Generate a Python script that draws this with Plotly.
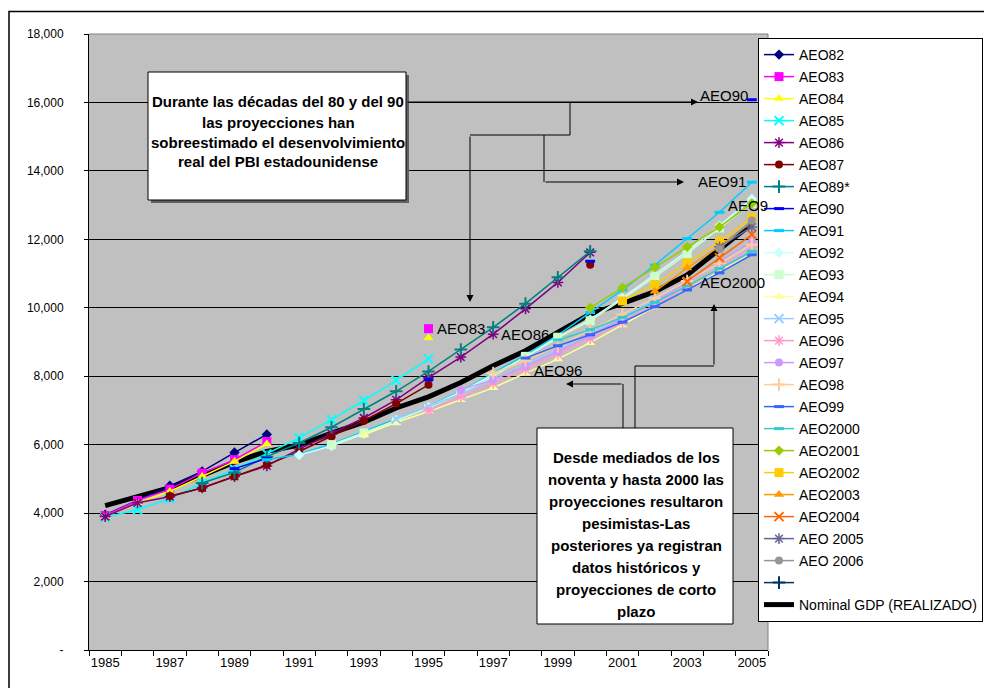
import plotly.graph_objects as go

N = None
years = list(range(1985, 2006))

nominal_gdp = [4220, 4463, 4742, 5104, 5489, 5803, 5986, 6338, 6657, 7072, 7398,
               7817, 8304, 8747, 9268, 9817, 10128, 10470, 10961, 11712, 12456]

aeo82 = [3950, 4370, 4800, 5220, 5770, 6300] + [N] * 15
aeo83 = [3930, 4370, 4700, 5170, 5560, 6090, N, N, N, N, 9390] + [N] * 10
aeo84 = [3900, 4300, 4630, 5070, 5510, 6020, N, N, N, N, 9120] + [N] * 10
aeo85 = [3880, 4100, 4420, 4880, 5280, 5730, 6200, 6730, 7290, 7880, 8510] + [N] * 10
aeo86 = [3900, 4300, 4480, 4740, 5070, 5380, 5870, 6320, 6780, 7310, 7960,
         8560, 9230, 9970, 10740, 11620] + [N] * 5
aeo87 = [N, N, 4500, 4730, 5070, 5410, 5800, 6240, 6700, 7200, 7750,
         N, N, N, N, 11260] + [N] * 5
aeo89 = [N, N, N, 4880, 5190, 5650, 6050, 6510, 7040, 7560, 8140,
         8780, 9430, 10120, 10890, 11650] + [N] * 5
aeo90 = [N, N, N, N, 5300, 5600, N, N, N, N, 7900, N, N, N, N, 11360, N, N, N, N, 16080]
aeo91 = [N] * 5 + [5560, 5720, 6020, 6380, 6760, 7120, 7560, 8080, 8620, 9200, 9860,
                   10520, 11250, 12020, 12790, 13670]
aeo92 = [N] * 6 + [5700, 5960, 6320, 6720, 7100, 7540, 8040, 8560, 9120, 9660,
                   10290, 10960, 11650, 12400, 13180]
aeo93 = [N] * 7 + [6000, 6340, 6700, 7080, 7500, 7990, 8580, 9140, 9620,
                   10250, 10900, 11580, 12330, 13050]
aeo94 = [N] * 8 + [6290, 6650, 6970, 7310, 7660, 8090, 8500, 8980, 9500, 10020, 10550, 11050, 11580]
aeo95 = [N] * 9 + [6750, 7110, 7480, 7900, 8330, 8780, 9250, 9730, 10220, 10750, 11280, 11820]
aeo96 = [N] * 10 + [7000, 7400, 7800, 8200, 8650, 9100, 9580, 10080, 10620, 11180, 11760]
aeo97 = [N] * 11 + [7600, 7900, 8290, 8720, 9180, 9680, 10180, 10740, 11330, 11940]
aeo98 = [N] * 12 + [8090, 8450, 8880, 9350, 9800, 10280, 10780, 11300, 11850]
aeo99 = [N] * 13 + [8530, 8890, 9210, 9580, 10030, 10520, 11020, 11550]
aeo2000 = [N] * 14 + [9060, 9360, 9720, 10160, 10640, 11150, 11650]
aeo2001 = [N] * 15 + [10000, 10590, 11180, 11780, 12360, 13050]
aeo2002 = [N] * 16 + [10200, 10680, 11310, 11940, 12630]
aeo2003 = [N] * 17 + [10480, 11160, 11800, 12500]
aeo2004 = [N] * 18 + [10770, 11460, 12140]
aeo2005 = [N] * 19 + [11780, 12360]
aeo2006 = [N] * 19 + [11720, 12550]
blank = [N] * 21

series_names = ["AEO82", "AEO83", "AEO84", "AEO85", "AEO86", "AEO87", "AEO89*", "AEO90",
                "AEO91", "AEO92", "AEO93", "AEO94", "AEO95", "AEO96", "AEO97", "AEO98",
                "AEO99", "AEO2000", "AEO2001", "AEO2002", "AEO2003", "AEO2004",
                "AEO 2005", "AEO 2006", " "]
series_values = [aeo82, aeo83, aeo84, aeo85, aeo86, aeo87, aeo89, aeo90, aeo91, aeo92,
                 aeo93, aeo94, aeo95, aeo96, aeo97, aeo98, aeo99, aeo2000, aeo2001,
                 aeo2002, aeo2003, aeo2004, aeo2005, aeo2006, blank]
series_colors = ["#000080", "#FF00FF", "#FFFF00", "#00FFFF", "#800080", "#800000",
                 "#008080", "#0000FF", "#00CCFF", "#CCFFFF", "#CCFFCC", "#FFFF99",
                 "#99CCFF", "#FF99CC", "#CC99FF", "#FFCC99", "#3366FF", "#33CCCC",
                 "#99CC00", "#FFCC00", "#FF9900", "#FF6600", "#666699", "#969696", "#003366"]
series_symbols = ["diamond", "square", "triangle-up", "x-thin-open", "asterisk-open",
                  "circle", "cross-thin-open", "line-ew-open", "line-ew-open", "diamond",
                  "square", "triangle-up", "x-thin-open", "asterisk-open", "circle",
                  "cross-thin-open", "line-ew-open", "line-ew-open", "diamond", "square",
                  "triangle-up", "x-thin-open", "asterisk-open", "circle", "cross-thin-open"]

y_ticks = [0, 2000, 4000, 6000, 8000, 10000, 12000, 14000, 16000, 18000]
y_tick_labels = ["-", "2,000", "4,000", "6,000", "8,000", "10,000", "12,000",
                 "14,000", "16,000", "18,000"]
x_ticks = list(range(1985, 2006, 2))
x_tick_labels = [str(y) for y in x_ticks]

FONT = "Liberation Sans, Arial, sans-serif"
OFF = 8  # page body margin
W, H = 992 - OFF, 688 - OFF
PL, PR, PT, PB = 89, 768, 34, 650  # plot area in reference-page pixels


def fx(px):
    return (px - PL) / (PR - PL)


def fy(py):
    return (PB - py) / (PB - PT)


fig = go.Figure()

fig.add_trace(go.Scatter(
    x=years, y=nominal_gdp, name="Nominal GDP (REALIZADO)", mode="lines",
    line=dict(color="black", width=5), legendrank=2000, legendgroup="gdp"))

open_sym = {"x-thin-open": 2, "asterisk-open": 1.5, "cross-thin-open": 2, "line-ew-open": 3}
for i, (nm, vals, col, sym) in enumerate(zip(series_names, series_values, series_colors, series_symbols)):
    if sym in open_sym:
        mk = dict(symbol=sym, size=9 if sym != "line-ew-open" else 7, color=col,
                  line=dict(width=open_sym[sym], color=col))
    else:
        sz = 9 if sym in ("square", "triangle-up") else 8
        mk = dict(symbol=sym, size=sz, color=col, line=dict(width=0))
    fig.add_trace(go.Scatter(
        x=years, y=vals, name=nm, mode="lines+markers",
        line=dict(color=col, width=1.5), marker=mk, legendrank=1000 + i,
        legendgroup="g%d" % i, connectgaps=False))

shapes = []
# outer chart border
shapes.append(dict(type="rect", xref="paper", yref="paper", x0=fx(9), x1=fx(1000),
                   y0=fy(700), y1=fy(11.5), line=dict(color="black", width=1.5), layer="above"))
# plot area top / right border
shapes.append(dict(type="line", xref="paper", yref="paper", x0=0, x1=1, y0=1, y1=1,
                   line=dict(color="#808080", width=1), layer="above"))
shapes.append(dict(type="line", xref="paper", yref="paper", x0=1, x1=1, y0=0, y1=1,
                   line=dict(color="#808080", width=1), layer="above"))
# text box 1 (with shadow)
shapes.append(dict(type="rect", xref="paper", yref="paper", x0=fx(151), x1=fx(409),
                   y0=fy(203), y1=fy(75), fillcolor="#606060", line=dict(width=0), layer="above"))
shapes.append(dict(type="rect", xref="paper", yref="paper", x0=fx(148), x1=fx(406),
                   y0=fy(200), y1=fy(72), fillcolor="white",
                   line=dict(color="black", width=1), layer="above"))
# text box 2
shapes.append(dict(type="rect", xref="paper", yref="paper", x0=fx(537), x1=fx(733),
                   y0=fy(624), y1=fy(428), fillcolor="white",
                   line=dict(color="black", width=1), layer="above"))


def seg(x0, y0, x1, y1):
    shapes.append(dict(type="line", xref="paper", yref="paper", x0=fx(x0), x1=fx(x1),
                       y0=fy(y0), y1=fy(y1), line=dict(color="black", width=1), layer="above"))


seg(570, 102, 570, 135)
seg(470, 135, 570, 135)
seg(544, 135, 544, 182)
seg(623, 428, 623, 384)
seg(635, 428, 635, 366)
seg(635, 366, 714, 366)

annotations = []


def arrow(x0, y0, x1, y1):
    annotations.append(dict(xref="paper", yref="paper", axref="pixel", ayref="pixel",
                            x=fx(x1), y=fy(y1), ax=x0 - x1, ay=y0 - y1, text="",
                            showarrow=True, arrowhead=2, arrowsize=1.4, arrowwidth=1,
                            arrowcolor="black", standoff=0, startstandoff=0))


arrow(406, 102, 698, 102)
arrow(470, 135, 470, 302)
arrow(544, 182, 684, 182)
arrow(623, 384, 566, 384)
arrow(714, 366, 714, 304)

box1 = ["Durante las décadas del 80 y del 90", "las proyecciones han",
        "sobreestimado el desenvolvimiento", "real del PBI estadounidense"]
for k, t in enumerate(box1):
    annotations.append(dict(xref="paper", yref="paper", x=fx(278), y=fy(102 + 20 * k),
                            text="<b>%s</b>" % t, showarrow=False, xanchor="center",
                            yanchor="middle", font=dict(family=FONT, size=15, color="black")))

box2 = ["Desde mediados de los", "noventa y hasta 2000 las", "proyecciones resultaron",
        "pesimistas-Las", "posteriores ya registran", "datos históricos y",
        "proyecciones de corto", "plazo"]
for k, t in enumerate(box2):
    annotations.append(dict(xref="paper", yref="paper", x=fx(636), y=fy(457 + 22 * k),
                            text="<b>%s</b>" % t, showarrow=False, xanchor="center",
                            yanchor="middle", font=dict(family=FONT, size=15, color="black")))

labels = [("AEO83", 435, 328), ("AEO86", 499, 334), ("AEO96", 532, 370),
          ("AEO90", 698, 95), ("AEO91", 696, 181), ("AEO9", 726, 205), ("AEO2000", 698, 282)]
for t, lx, ly in labels:
    annotations.append(dict(xref="paper", yref="paper", x=fx(lx), y=fy(ly), text=t,
                            showarrow=False, xanchor="left", yanchor="middle",
                            font=dict(family=FONT, size=15, color="black")))

fig.update_layout(
    width=W, height=H, autosize=False,
    margin=dict(l=PL - OFF, r=(992 - OFF) - (PR - OFF), t=PT - OFF, b=(688 - OFF) - (PB - OFF),
                autoexpand=False),
    paper_bgcolor="white", plot_bgcolor="#C0C0C0",
    font=dict(family=FONT, color="black"),
    showlegend=True,
    legend=dict(x=fx(758), y=fy(38), xanchor="left", yanchor="top",
                bgcolor="white", bordercolor="black", borderwidth=1,
                font=dict(family=FONT, size=14, color="black"),
                traceorder="grouped", tracegroupgap=0.8),
    xaxis=dict(range=[1984.5, 2005.5], tickmode="array", tickvals=x_ticks,
               ticktext=x_tick_labels, ticks="", showgrid=False, zeroline=False,
               showline=True, linecolor="black", linewidth=1,
               tickfont=dict(family=FONT, size=13, color="black"),
               minor=dict(tickmode="linear", tick0=1984.5, dtick=1, ticks="outside",
                          ticklen=5, tickcolor="black", showgrid=False)),
    yaxis=dict(range=[0, 18000], tickmode="array", tickvals=y_ticks, ticktext=y_tick_labels,
               ticks="outside", ticklen=4, tickcolor="black", showgrid=True,
               gridcolor="black", gridwidth=1, zeroline=False, showline=True,
               linecolor="black", linewidth=1, ticklabelstandoff=18,
               tickfont=dict(family=FONT, size=12, color="black")),
    shapes=shapes, annotations=annotations,
)

fig.write_html("out.html")
